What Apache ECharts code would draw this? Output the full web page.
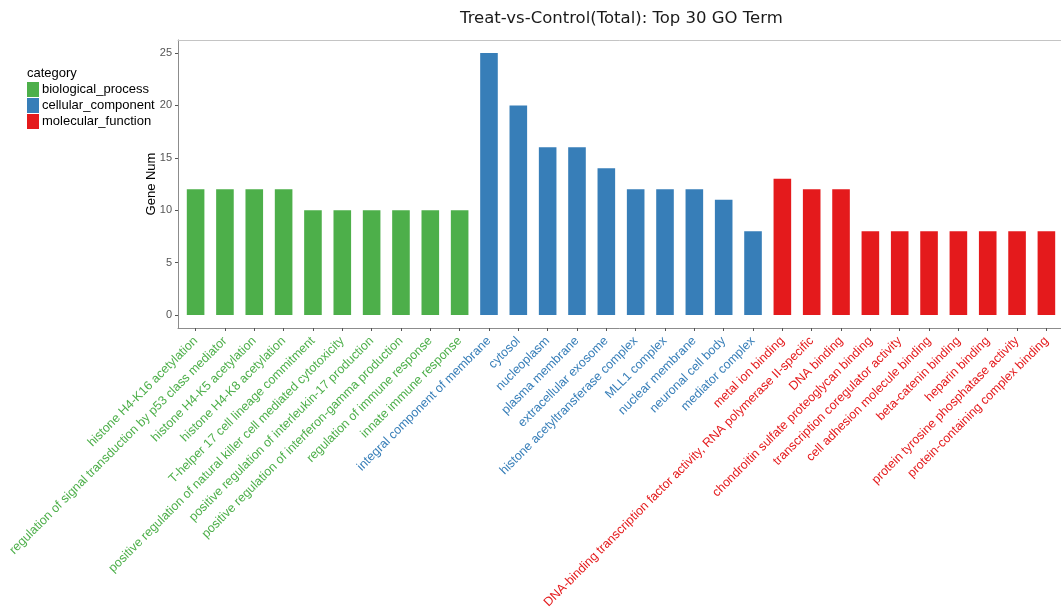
<!DOCTYPE html>
<html>
<head>
<meta charset="utf-8">
<title>Treat-vs-Control(Total): Top 30 GO Term</title>
<script src="https://cdn.jsdelivr.net/npm/echarts@6/dist/echarts.min.js"></script>
<style>
  html, body { margin: 0; padding: 0; background: #fff; }
  #chart { width: 1061px; height: 613px; }
</style>
</head>
<body>
<div id="chart"></div>
<script>
// GO terms and gene counts, one group per ontology
const bpTerms = [
  "histone H4-K16 acetylation",
  "regulation of signal transduction by p53 class mediator",
  "histone H4-K5 acetylation",
  "histone H4-K8 acetylation",
  "T-helper 17 cell lineage commitment",
  "positive regulation of natural killer cell mediated cytotoxicity",
  "positive regulation of interleukin-17 production",
  "positive regulation of interferon-gamma production",
  "regulation of immune response",
  "innate immune response"
];
const bpGenes = [12, 12, 12, 12, 10, 10, 10, 10, 10, 10];

const ccTerms = [
  "integral component of membrane",
  "cytosol",
  "nucleoplasm",
  "plasma membrane",
  "extracellular exosome",
  "histone acetyltransferase complex",
  "MLL1 complex",
  "nuclear membrane",
  "neuronal cell body",
  "mediator complex"
];
const ccGenes = [25, 20, 16, 16, 14, 12, 12, 12, 11, 8];

const mfTerms = [
  "metal ion binding",
  "DNA-binding transcription factor activity, RNA polymerase II-specific",
  "DNA binding",
  "chondroitin sulfate proteoglycan binding",
  "transcription coregulator activity",
  "cell adhesion molecule binding",
  "beta-catenin binding",
  "heparin binding",
  "protein tyrosine phosphatase activity",
  "protein-containing complex binding"
];
const mfGenes = [13, 12, 12, 8, 8, 8, 8, 8, 8, 8];

const categoryNames = ["biological_process", "cellular_component", "molecular_function"];
const categoryColors = ["#4daf4a", "#377eb8", "#e41a1c"];
const yTicks = [0, 5, 10, 15, 20, 25];

// Build ordered term list and per-term category index
const groups = [
  { terms: bpTerms, genes: bpGenes },
  { terms: ccTerms, genes: ccGenes },
  { terms: mfTerms, genes: mfGenes }
];
const allTerms = [];
const termCat = [];
const seriesData = [[], [], []];
groups.forEach((g, gi) => {
  g.terms.forEach((t, i) => {
    const idx = allTerms.length;
    allTerms.push(t);
    termCat.push(gi);
    seriesData[gi].push([idx, g.genes[i]]);
  });
});
const xPositions = allTerms.map((_, i) => i);

const labelFont = "'Liberation Sans', Arial, Helvetica, sans-serif";
const rich = {};
categoryColors.forEach((c, i) => {
  rich['c' + i] = { color: c, fontSize: 12.5, fontFamily: labelFont };
});

const chart = echarts.init(document.getElementById('chart'), null, { renderer: 'canvas' });

chart.setOption({
  animation: false,
  backgroundColor: '#ffffff',
  title: [
    {
      text: 'Treat-vs-Control(Total): Top 30 GO Term',
      left: 460,
      top: 10,
      padding: 0,
      textStyle: {
        fontFamily: "'DejaVu Sans', sans-serif",
        fontSize: 16.5,
        fontWeight: 'normal',
        color: '#1a1a1a'
      }
    },
    {
      text: 'category',
      left: 27,
      top: 67,
      padding: 0,
      textStyle: {
        fontFamily: labelFont,
        fontSize: 13,
        fontWeight: 'normal',
        color: '#000'
      }
    }
  ],
  legend: {
    orient: 'vertical',
    left: 27,
    top: 82,
    padding: 0,
    icon: 'rect',
    itemWidth: 12,
    itemHeight: 15,
    itemGap: 1,
    data: categoryNames,
    textStyle: { fontFamily: labelFont, fontSize: 13, color: '#000', padding: [0, 0, 0, -2] }
  },
  grid: {
    left: 178,
    top: 40,
    width: 886,
    height: 288,
    outerBoundsMode: 'none',
    show: false,
    containLabel: false
  },
  xAxis: [
    {
      type: 'value',
      min: -0.6,
      max: 29.6,
      splitLine: { show: false },
      axisLine: { show: true, onZero: false, lineStyle: { color: '#8c8c8c', width: 1 } },
      axisTick: {
        show: true,
        customValues: xPositions,
        length: 3,
        lineStyle: { color: '#555' }
      },
      axisLabel: {
        customValues: xPositions,
        rotate: 45,
        margin: 11,
        formatter: function (v) {
          const i = Math.round(v);
          return '{c' + termCat[i] + '|' + allTerms[i] + '}';
        },
        rich: rich
      }
    },
    {
      // top frame line of the panel
      type: 'value',
      position: 'top',
      min: -0.6,
      max: 29.6,
      splitLine: { show: false },
      axisLine: { show: true, onZero: false, lineStyle: { color: '#c4c4c4', width: 1 } },
      axisTick: { show: false },
      axisLabel: { show: false }
    }
  ],
  yAxis: {
    type: 'value',
    min: -1.25,
    max: 26.25,
    name: 'Gene Num',
    nameLocation: 'middle',
    nameRotate: 90,
    nameGap: 20,
    nameMoveOverlap: false,
    nameTextStyle: { fontFamily: labelFont, fontSize: 13, color: '#000' },
    splitLine: { show: false },
    axisLine: { show: true, onZero: false, lineStyle: { color: '#8c8c8c', width: 1 } },
    axisTick: {
      show: true,
      customValues: yTicks,
      length: 3,
      lineStyle: { color: '#555' }
    },
    axisLabel: {
      customValues: yTicks,
      margin: 6,
      fontFamily: labelFont,
      fontSize: 11,
      color: '#555'
    }
  },
  series: categoryNames.map((name, gi) => ({
    name: name,
    type: 'bar',
    data: seriesData[gi],
    barWidth: '60%',
    barGap: '-100%',
    itemStyle: { color: categoryColors[gi] }
  }))
});
</script>
</body>
</html>
